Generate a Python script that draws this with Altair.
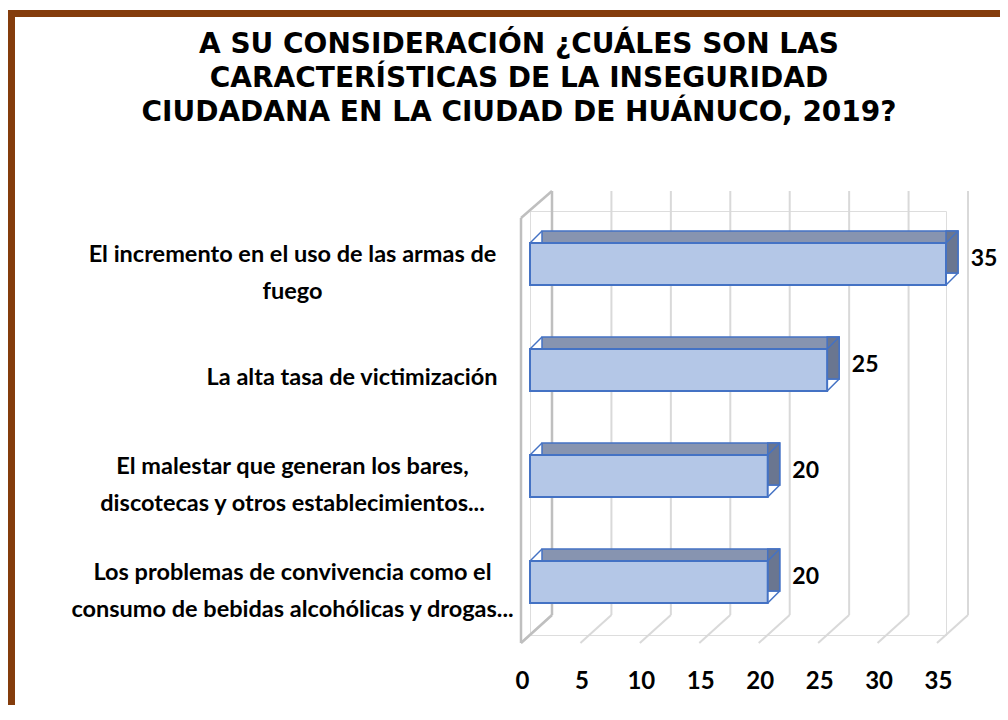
import altair as alt
import pandas as pd

# ---------------- data ----------------
categories = [
    "El incremento en el uso de las armas de|fuego",
    "La alta tasa de victimización",
    "El malestar que generan los bares,|discotecas y otros establecimientos...",
    "Los problemas de convivencia como el|consumo de bebidas alcohólicas y drogas...",
]
values = [35, 25, 20, 20]
x_ticks = [0, 5, 10, 15, 20, 25, 30, 35]
title_lines = [
    "A SU CONSIDERACIÓN ¿CUÁLES SON LAS",
    "CARACTERÍSTICAS DE LA INSEGURIDAD",
    "CIUDADANA  EN LA CIUDAD DE HUÁNUCO, 2019?",
]

df = pd.DataFrame({"cat": categories, "val": values})
grid_df = pd.DataFrame({"tick": x_ticks})

# ---------------- style ----------------
LF = "Lato"
BROWN = "#843C0C"
GRID = "#d9d9d9"
WALL = "#bfbfbf"
BLUE = "#4472C4"
FRONT = "#b4c7e7"
TOP = "#8794b0"
SIDE = "#6a7690"
DEPTH = 12      # bar depth in px
BACK = 22       # back wall offset in px
FLOOR = -9      # front floor offset in px
W, H = 416, 424
MULTI = "indexof(datum.value, '|') >= 0"

x_scale = alt.Scale(domain=[0, 35], nice=False, zero=True)
y_scale = alt.Scale(domain=categories, paddingInner=0.604, paddingOuter=0.302)

x_axis = alt.Axis(
    title=None, values=x_ticks, grid=False, domain=False, ticks=False, tickSize=0,
    labelFont=LF, labelFontSize=24, labelFontWeight="bold", labelColor="black",
    labelPadding=34, labelOffset=-8, labelFlush=False,
)
y_axis = alt.Axis(
    title=None, grid=False, domain=False, ticks=False, tickSize=0,
    labelExpr="split(datum.label, '|')", labelBaseline="middle",
    labelAlign={"condition": {"test": MULTI, "value": "center"}, "value": "right"},
    labelPadding={"condition": {"test": MULTI, "value": 238}, "value": 33},
    labelOffset={"condition": {"test": MULTI, "value": -9}, "value": 8},
    labelLimit=0,
    labelFont=LF, labelFontSize=23.5, labelFontWeight="bold", labelColor="black",
    labelLineHeight=37,
)

def X(field="val:Q"):
    return alt.X(field, scale=x_scale, axis=x_axis)

# ---------------- frame (brown border) ----------------
frame_left = alt.Chart(grid_df).mark_rule(color=BROWN, strokeWidth=7).encode(
    x=alt.value(-518.5), y=alt.value(-201), y2=alt.value(H + 80)
)
frame_top = alt.Chart(grid_df).mark_rule(color=BROWN, strokeWidth=7).encode(
    x=alt.value(-522), x2=alt.value(W + 60), y=alt.value(-197.5)
)

# ---------------- back wall gridlines and floor ----------------
grid = alt.Chart(grid_df).mark_rule(color=GRID, strokeWidth=2, xOffset=BACK).encode(
    x=X("tick:Q"), y=alt.value(-20), y2=alt.value(404)
)
floor = alt.Chart(grid_df).mark_rule(
    color=GRID, strokeWidth=2, xOffset=BACK, x2Offset=FLOOR
).encode(x=X("tick:Q"), x2="tick:Q", y=alt.value(404), y2=alt.value(432))

wall_base = alt.Chart(grid_df).transform_filter("datum.tick == 0")
wall_back = wall_base.mark_rule(color=WALL, strokeWidth=2.5, xOffset=BACK).encode(
    x=X("tick:Q"), y=alt.value(-20), y2=alt.value(404)
)
wall_front = wall_base.mark_rule(color=WALL, strokeWidth=2.5, xOffset=FLOOR).encode(
    x=X("tick:Q"), y=alt.value(7), y2=alt.value(432)
)
wall_topd = wall_base.mark_rule(color=WALL, strokeWidth=2.5, xOffset=FLOOR, x2Offset=BACK).encode(
    x=X("tick:Q"), x2="tick:Q", y=alt.value(7), y2=alt.value(-20)
)
wall_botd = wall_base.mark_rule(color=WALL, strokeWidth=2.5, xOffset=FLOOR, x2Offset=BACK).encode(
    x=X("tick:Q"), x2="tick:Q", y=alt.value(432), y2=alt.value(404)
)

# ---------------- 3D bars ----------------
base = alt.Chart(df).encode(
    y=alt.Y("cat:N", scale=y_scale, sort=categories, axis=y_axis)
)
top_face = base.mark_bar(
    fill=TOP, stroke=BLUE, strokeWidth=1.5,
    xOffset=DEPTH, x2Offset=DEPTH, yOffset=-DEPTH, y2Offset=-DEPTH,
).encode(x=X(), x2=alt.datum(0))
side_face = base.mark_bar(
    fill=SIDE, stroke=BLUE, strokeWidth=1.5,
    x2Offset=DEPTH, yOffset=-DEPTH, y2Offset=-DEPTH,
).encode(x=X(), x2="val:Q")
front_face = base.mark_bar(fill=FRONT, stroke=BLUE, strokeWidth=2).encode(
    x=X(), x2=alt.datum(0)
)
edge_tl = base.mark_rule(color=BLUE, strokeWidth=1.5, x2Offset=DEPTH, yOffset=-21, y2Offset=-21 - DEPTH).encode(
    x=alt.datum(0), x2=alt.datum(0), y2="cat:N"
)
edge_tr = base.mark_rule(color=BLUE, strokeWidth=1.5, x2Offset=DEPTH, yOffset=-21, y2Offset=-21 - DEPTH).encode(
    x=X(), x2="val:Q", y2="cat:N"
)
edge_br = base.mark_rule(color=BLUE, strokeWidth=1.5, x2Offset=DEPTH, yOffset=21, y2Offset=21 - DEPTH).encode(
    x=X(), x2="val:Q", y2="cat:N"
)
labels = base.mark_text(
    dx=38, dy=-5, font=LF, fontSize=23, fontWeight="bold", color="black", align="center", baseline="middle"
).encode(x=X(), text="val:Q")

chart = alt.layer(
    frame_left, frame_top, grid, floor, wall_back, wall_front, wall_topd, wall_botd,
    top_face, side_face, front_face, edge_tl, edge_tr, edge_br, labels,
).properties(
    width=W, height=H,
    autosize=alt.AutoSizeParams(type="none"),
    padding={"left": 522, "top": 203, "right": 54, "bottom": 70},
    title=alt.TitleParams(
        text=title_lines, font="DejaVu Sans", fontSize=28, fontWeight="bold", color="black",
        anchor="middle", frame="group", dx=-219, offset=0, dy=120, lineHeight=34,
    ),
).configure_view(stroke=None).configure(background="white")

chart.save("out.html", embed_options={"renderer": "svg", "actions": False})
